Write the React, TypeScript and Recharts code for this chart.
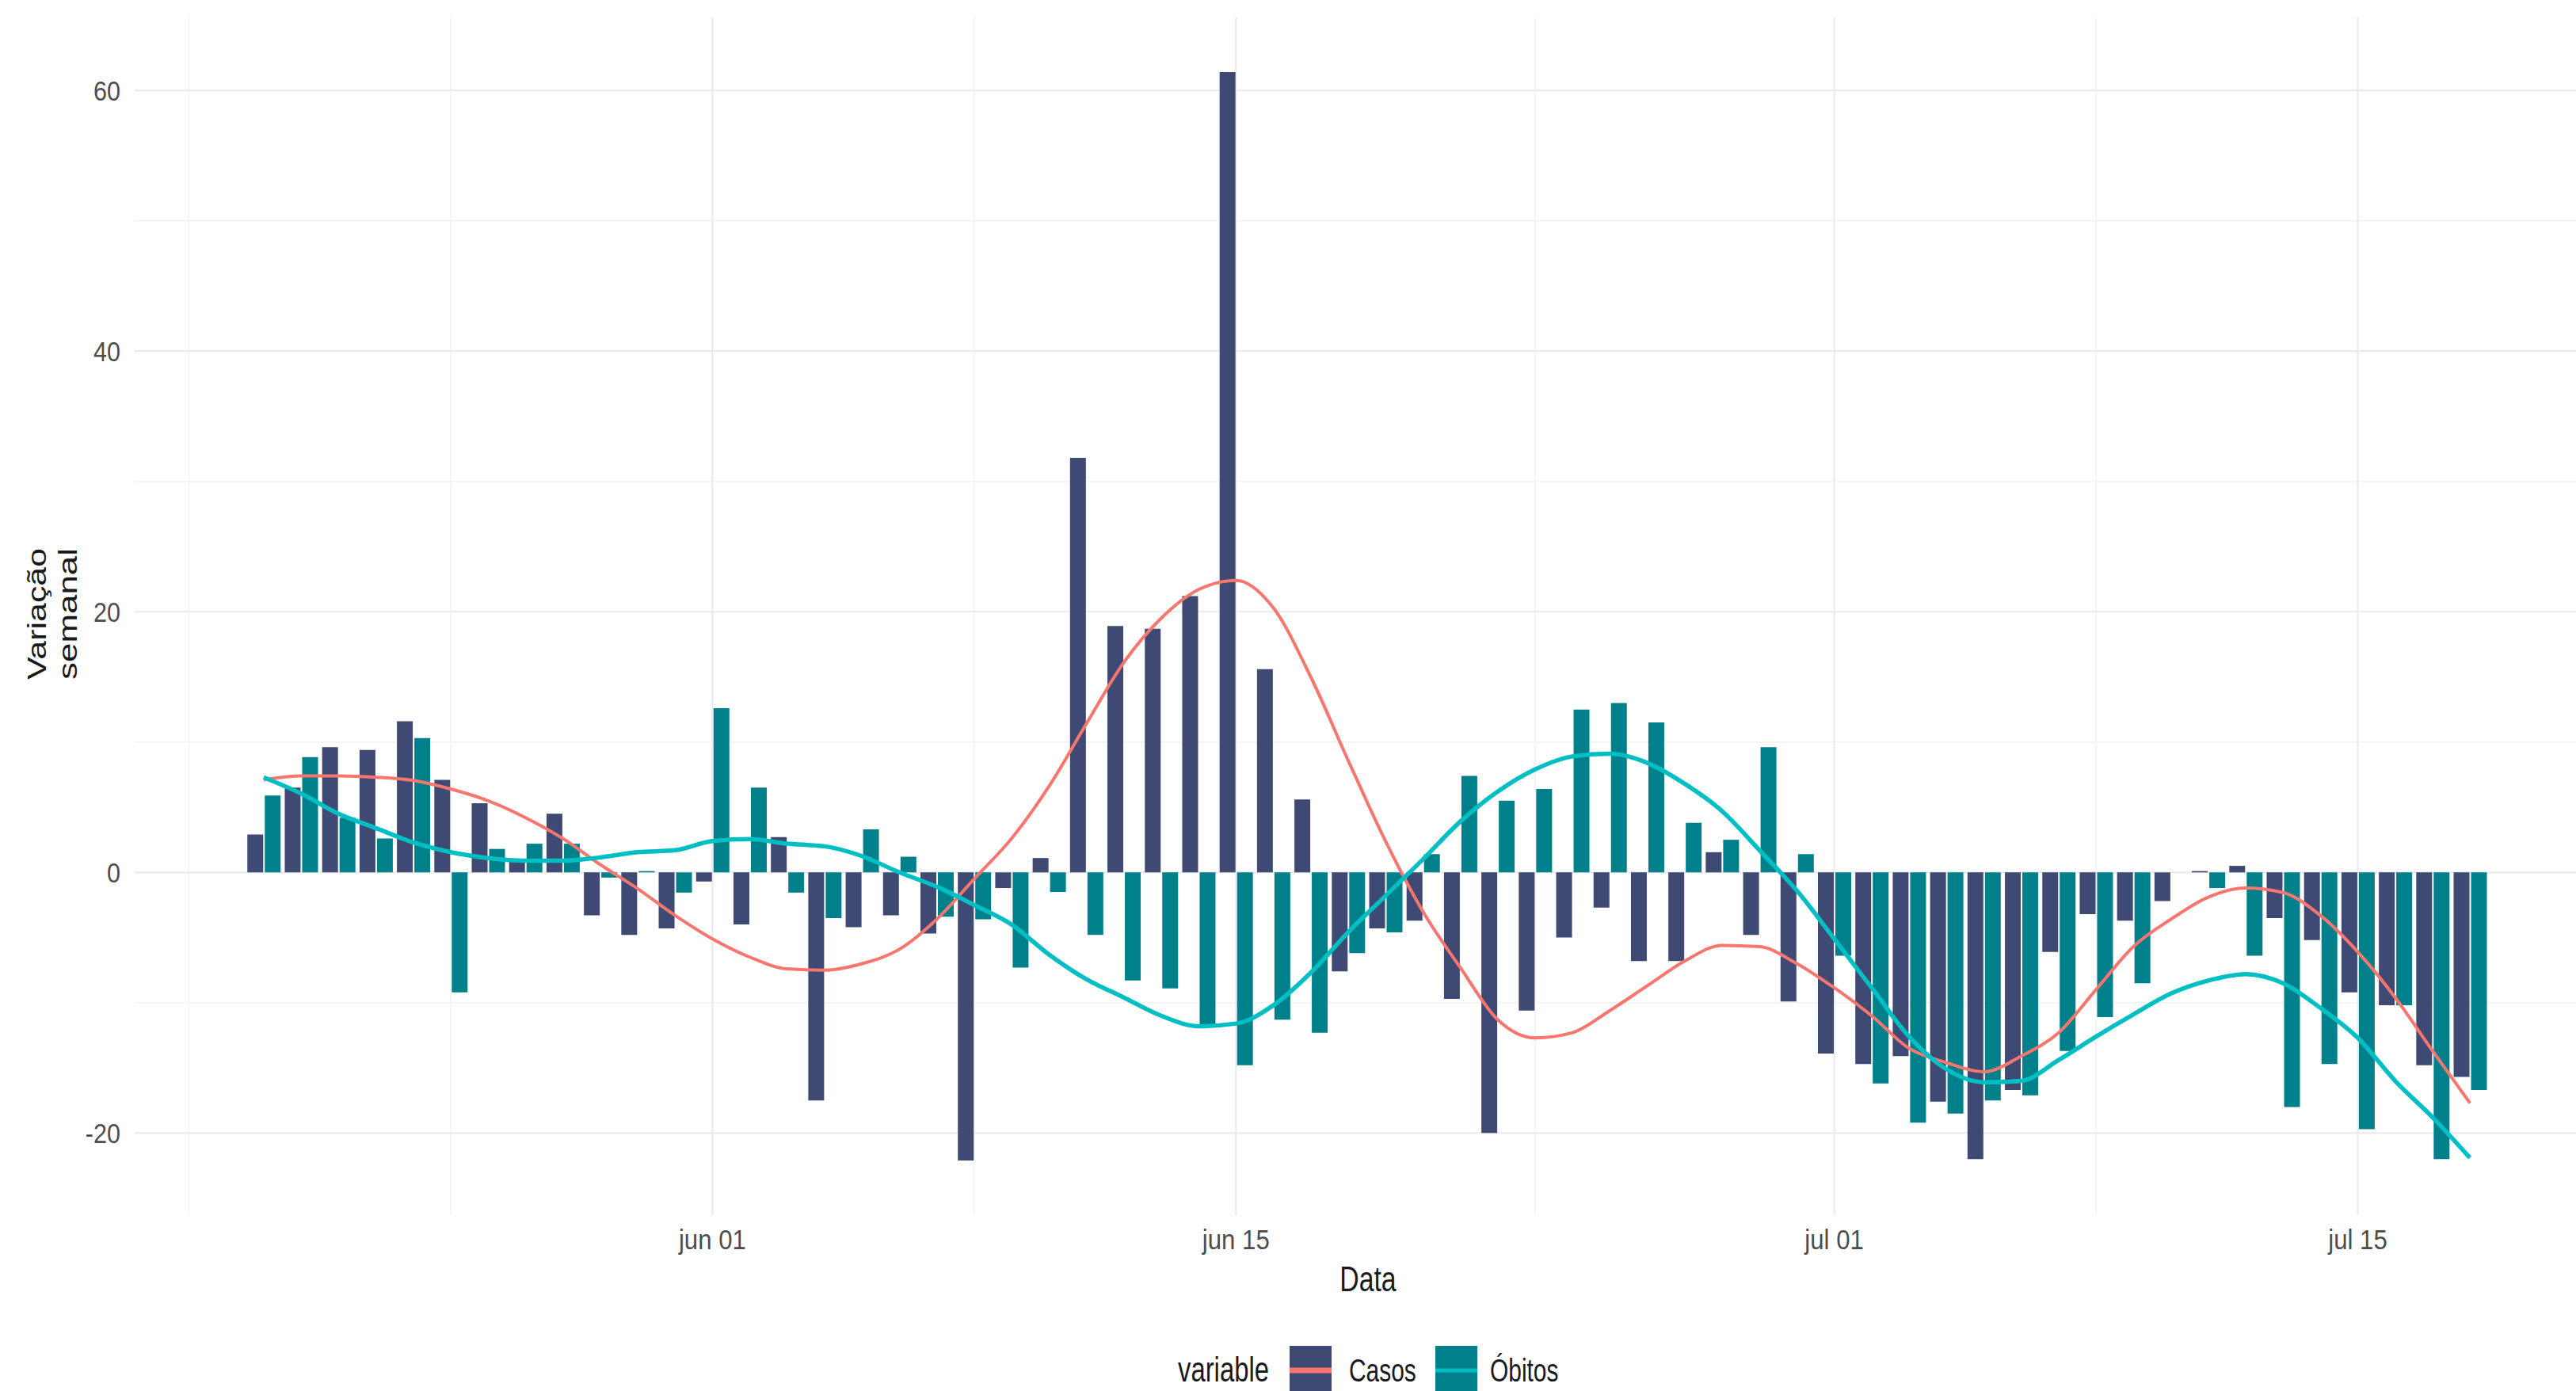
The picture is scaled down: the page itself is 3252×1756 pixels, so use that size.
import React from 'react'
import { ComposedChart, Bar, Line, XAxis, YAxis, CartesianGrid } from 'recharts'

// Variação semanal por dia
const datas = [
  '2020-05-20', '2020-05-21', '2020-05-22', '2020-05-23', '2020-05-24', '2020-05-25',
  '2020-05-26', '2020-05-27', '2020-05-28', '2020-05-29', '2020-05-30', '2020-05-31',
  '2020-06-01', '2020-06-02', '2020-06-03', '2020-06-04', '2020-06-05', '2020-06-06',
  '2020-06-07', '2020-06-08', '2020-06-09', '2020-06-10', '2020-06-11', '2020-06-12',
  '2020-06-13', '2020-06-14', '2020-06-15', '2020-06-16', '2020-06-17', '2020-06-18',
  '2020-06-19', '2020-06-20', '2020-06-21', '2020-06-22', '2020-06-23', '2020-06-24',
  '2020-06-25', '2020-06-26', '2020-06-27', '2020-06-28', '2020-06-29', '2020-06-30',
  '2020-07-01', '2020-07-02', '2020-07-03', '2020-07-04', '2020-07-05', '2020-07-06',
  '2020-07-07', '2020-07-08', '2020-07-09', '2020-07-10', '2020-07-11', '2020-07-12',
  '2020-07-13', '2020-07-14', '2020-07-15', '2020-07-16', '2020-07-17', '2020-07-18',
]

const casos = [
  2.9, 6.5, 9.6, 9.4, 11.6, 7.1, 5.3, 0.8, 4.5, -3.3, -4.8, -4.3,
  -0.7, -4.0, 2.7, -17.5, -4.2, -3.3, -4.7, -22.1, -1.2, 1.1,
  31.8, 18.9, 18.7, 21.2, 61.4, 15.6, 5.6, -7.6, -4.3, -3.7,
  -9.7, -20.0, -10.6, -5.0, -2.7, -6.8, -6.8, 1.55, -4.8, -9.9,
  -13.9, -14.7, -14.1, -17.6, -22.0, -16.7, -6.1, -3.2, -3.7, -2.2,
  0.1, 0.5, -3.5, -5.2, -9.2, -10.2, -14.8, -15.7,
]

const obitos = [
  5.9, 8.85, 4.2, 2.6, 10.3, -9.2, 1.8, 2.2, 2.2, -0.4, 0.1, -1.55,
  12.6, 6.5, -1.55, -3.5, 3.3, 1.2, -3.4, -3.6, -7.3, -1.5,
  -4.8, -8.3, -8.9, -11.7, -14.8, -11.3, -12.3, -6.2, -4.6, 1.4,
  7.4, 5.5, 6.4, 12.5, 13.0, 11.5, 3.8, 2.5, 9.6, 1.4,
  -6.4, -16.2, -19.2, -18.5, -17.5, -17.1, -13.7, -11.1, -8.5, 0,
  -1.2, -6.4, -18.0, -14.7, -19.7, -10.2, -22.0, -16.7,
]

// curvas suavizadas (loess)
const casosSuave = [
  7.1, 7.4, 7.4, 7.3, 7.05, 6.4, 5.5, 4.2, 2.6, 0.6, -1.25, -3.3,
  -5.1, -6.5, -7.4, -7.5, -7.0, -5.9, -3.6, -0.5, 2.6, 6.6,
  11.4, 16.1, 19.5, 21.7, 22.4, 20.3, 15.0, 8.6, 2.4, -3.0,
  -7.3, -11.3, -12.7, -12.3, -10.6, -8.7, -6.8, -5.6, -5.7, -7.0,
  -8.85, -11.0, -13.5, -14.6, -15.3, -14.1, -12.3, -9.0, -5.7, -3.6,
  -1.9, -1.2, -1.55, -3.3, -6.1, -9.6, -13.7, -17.7,
]

const obitosSuave = [
  7.3, 6.05, 4.5, 3.4, 2.3, 1.55, 1.1, 0.9, 0.9, 1.15, 1.55, 1.7,
  2.4, 2.55, 2.2, 2.0, 1.25, 0.0, -1.1, -2.5, -4.0, -6.3,
  -8.2, -9.6, -11.0, -11.8, -11.6, -10.2, -7.7, -4.6, -1.8, 1.0,
  3.9, 6.2, 7.9, 8.9, 9.1, 8.4, 6.8, 4.7, 1.7, -1.4,
  -5.1, -8.85, -12.6, -15.1, -16.1, -16.0, -14.4, -12.6, -10.9, -9.3,
  -8.3, -7.8, -8.5, -10.4, -12.7, -16.0, -18.8, -21.9,
]

const marcasX = ['2020-06-01', '2020-06-15', '2020-07-01', '2020-07-15']
const rotulosX = ['jun 01', 'jun 15', 'jul 01', 'jul 15']
const marcasXMenores = ['2020-05-18', '2020-05-25', '2020-06-08', '2020-06-23', '2020-07-08']
const marcasY = [-20, 0, 20, 40, 60]
const marcasYMenores = [-10, 10, 30, 50]

const FONT = '"Liberation Sans", Arial, sans-serif'
const AZUL = '#3F4A74'
const VERDE = '#00808A'
const SALMAO = '#F8766D'
const CIANO = '#00BFC4'

const ORIGEM = Date.UTC(2020, 5, 1)
const paraDia = (s: string) => {
  const [a, m, d] = s.split('-').map(Number)
  return Math.round((Date.UTC(a, m - 1, d) - ORIGEM) / 86400000)
}

const dados = datas.map((s, i) => ({
  dia: paraDia(s),
  casos: casos[i],
  obitos: obitos[i],
  casosSuave: casosSuave[i],
  obitosSuave: obitosSuave[i],
}))

const diasX = marcasX.map(paraDia)
const diasXMenores = marcasXMenores.map(paraDia)

function TickX({ x, y, payload }: any) {
  const i = diasX.indexOf(payload.value)
  return (
    <text
      transform={`translate(${x},${y + 43}) scale(0.89,1)`}
      textAnchor="middle"
      fontSize={35}
      fill="#4D4D4D"
      fontFamily={FONT}
    >
      {rotulosX[i]}
    </text>
  )
}

function TickY({ x, y, payload }: any) {
  return (
    <text
      transform={`translate(${x},${y + 13}) scale(0.85,1)`}
      textAnchor="end"
      fontSize={36}
      fill="#4D4D4D"
      fontFamily={FONT}
    >
      {payload.value}
    </text>
  )
}

const tituloX = () => (
  <text
    transform="translate(1727,1630) scale(0.75,1)"
    textAnchor="middle"
    fontSize={45}
    fill="#1A1A1A"
    fontFamily={FONT}
  >
    Data
  </text>
)

const tituloY = () => (
  <g fill="#1A1A1A" fontFamily={FONT} fontSize={33}>
    <text transform="translate(58,775) rotate(-90) scale(1.3,1)" textAnchor="middle">
      Variação
    </text>
    <text transform="translate(97,775) rotate(-90) scale(1.33,1)" textAnchor="middle">
      semanal
    </text>
  </g>
)

function Legenda() {
  return (
    <svg
      width={3252}
      height={1756}
      style={{ position: 'absolute', left: 0, top: 0, pointerEvents: 'none' }}
    >
      <g fontFamily={FONT} fill="#1A1A1A">
        <text transform="translate(1487,1744) scale(0.73,1)" fontSize={45}>variable</text>
        <rect x={1628} y={1699} width={53} height={70} fill={AZUL} />
        <line x1={1628} x2={1681} y1={1730} y2={1730} stroke={SALMAO} strokeWidth={7} />
        <text transform="translate(1703,1744) scale(0.73,1)" fontSize={41}>Casos</text>
        <rect x={1812} y={1699} width={53} height={70} fill={VERDE} />
        <line x1={1812} x2={1865} y1={1730} y2={1730} stroke={CIANO} strokeWidth={5} />
        <text transform="translate(1881,1744) scale(0.73,1)" fontSize={41}>Óbitos</text>
      </g>
    </svg>
  )
}

export default function App() {
  return (
    <div
      style={{
        position: 'absolute',
        left: 0,
        top: 0,
        width: 3252,
        height: 1756,
        overflow: 'hidden',
        background: '#FFFFFF',
      }}
    >
      <ComposedChart
        width={3281}
        height={1756}
        data={dados}
        margin={{ top: 22, right: 0, bottom: 0, left: 0 }}
        barGap={2}
      >
        <CartesianGrid
          horizontalValues={marcasYMenores}
          verticalValues={diasXMenores}
          stroke="#F2F2F2"
          strokeWidth={1.5}
        />
        <CartesianGrid
          horizontalValues={marcasY}
          verticalValues={diasX}
          stroke="#EBEBEB"
          strokeWidth={2.2}
        />
        <XAxis
          dataKey="dia"
          type="number"
          domain={[-15.45, 50.45]}
          allowDataOverflow
          ticks={diasX}
          height={222}
          axisLine={false}
          tickLine={false}
          tickSize={0}
          tickMargin={0}
          tick={<TickX />}
          label={tituloX}
        />
        <YAxis
          type="number"
          domain={[-26.3, 65.6]}
          allowDataOverflow
          ticks={marcasY}
          width={170}
          axisLine={false}
          tickLine={false}
          tickSize={0}
          tickMargin={18}
          tick={<TickY />}
          label={tituloY}
        />
        <Bar dataKey="casos" fill={AZUL} barSize={20} isAnimationActive={false} />
        <Bar dataKey="obitos" fill={VERDE} barSize={20} isAnimationActive={false} />
        <Line
          dataKey="casosSuave"
          type="monotone"
          stroke={SALMAO}
          strokeWidth={4}
          dot={false}
          isAnimationActive={false}
        />
        <Line
          dataKey="obitosSuave"
          type="monotone"
          stroke={CIANO}
          strokeWidth={5.5}
          dot={false}
          isAnimationActive={false}
        />
      </ComposedChart>
      <Legenda />
    </div>
  )
}
